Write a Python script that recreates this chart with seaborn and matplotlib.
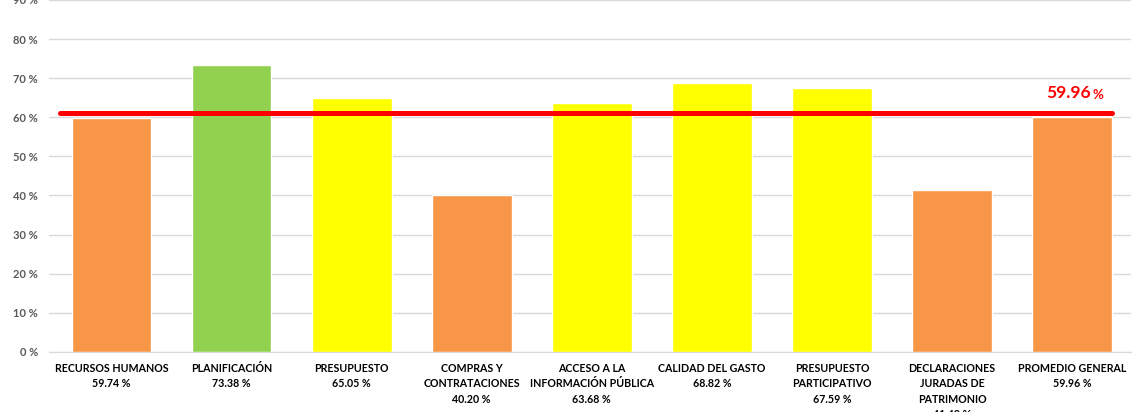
import pandas as pd
import matplotlib.pyplot as plt
import seaborn as sns

# Data
categories = ["RECURSOS HUMANOS", "PLANIFICACIÓN", "PRESUPUESTO", "COMPRAS Y\nCONTRATACIONES",
              "ACCESO A LA\nINFORMACIÓN PÚBLICA", "CALIDAD DEL GASTO", "PRESUPUESTO\nPARTICIPATIVO",
              "DECLARACIONES\nJURADAS DE\nPATRIMONIO", "PROMEDIO GENERAL"]
values = [59.74, 73.38, 65.05, 40.20, 63.68, 68.82, 67.59, 41.48, 59.96]
bar_colors = ["#F79646", "#92D050", "#FFFF00", "#F79646", "#FFFF00",
              "#FFFF00", "#FFFF00", "#F79646", "#F79646"]
average_label = "59.96"
average_line = 61.1
y_ticks = [0, 10, 20, 30, 40, 50, 60, 70, 80, 90]

df = pd.DataFrame({"cat": categories, "val": values})

sns.set_style("white")
plt.rcParams["font.family"] = ["Lato", "DejaVu Sans"]

fig = plt.figure(figsize=(11.4, 4.12), dpi=100)
ax = fig.add_axes([0.043, 0.146, 0.949, 0.854])

sns.barplot(data=df, x="cat", y="val", hue="cat", palette=bar_colors, legend=False,
            width=0.665, saturation=1, ax=ax, zorder=2)

ax.set_ylim(0, 90)
ax.set_xlim(-0.52, 8.49)
ax.set_yticks(y_ticks)
ax.set_yticklabels([f"{t} %" for t in y_ticks], fontsize=8, fontweight="bold", color="#595959")
ax.yaxis.grid(True, color="#D9D9D9", linewidth=1, zorder=0)
ax.set_axisbelow(True)

ax.set_xticks(range(len(categories)))
ax.set_xticklabels([f"{c}\n{v:.2f} %" for c, v in zip(categories, values)],
                   fontsize=7.7, fontweight="bold", color="#000000", va="top", linespacing=1.5)
ax.tick_params(axis="both", length=0)
ax.tick_params(axis="x", pad=8)
ax.tick_params(axis="y", pad=8)
ax.set_xlabel("")
ax.set_ylabel("")

for s in ["top", "right", "left"]:
    ax.spines[s].set_visible(False)
ax.spines["bottom"].set_color("#D9D9D9")

# average line
ax.plot([-0.43, 8.33], [average_line, average_line], color="#FF0000", linewidth=3.6, zorder=3)
ax.text(8.16, average_line + 3.0, average_label, color="#FF0000", fontsize=12.5,
        fontweight="bold", ha="right", va="bottom")
ax.text(8.265, average_line + 3.0, "%", color="#FF0000", fontsize=9.5,
        fontweight="bold", ha="right", va="bottom")

fig.savefig("out.png", dpi=100)
